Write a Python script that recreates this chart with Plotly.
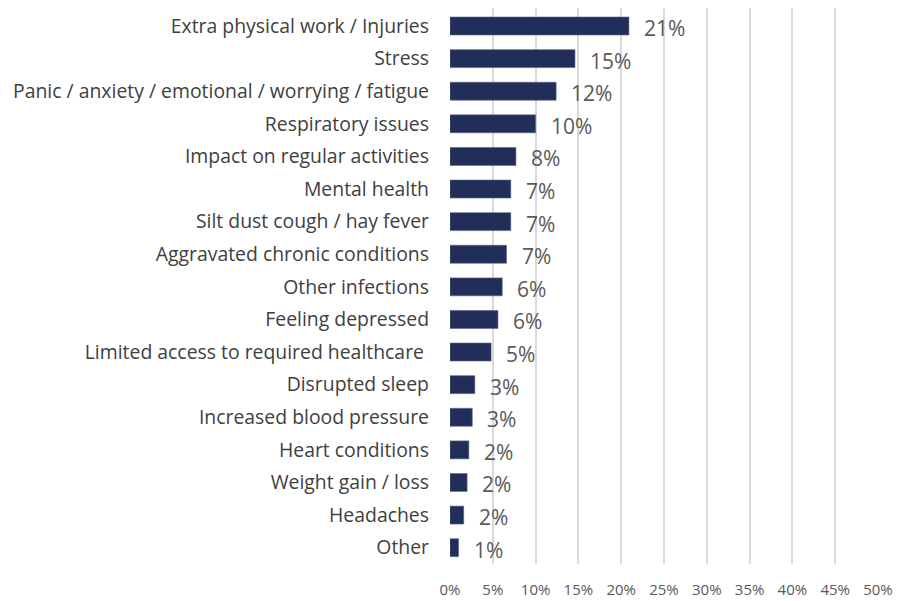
import plotly.graph_objects as go

# kategori & nilai (proporsi)
categories = [
    "Extra physical work / Injuries",
    "Stress",
    "Panic / anxiety / emotional / worrying / fatigue",
    "Respiratory issues",
    "Impact on regular activities",
    "Mental health",
    "Silt dust cough / hay fever",
    "Aggravated chronic conditions",
    "Other infections",
    "Feeling depressed",
    "Limited access to required healthcare\u00a0",
    "Disrupted sleep",
    "Increased blood pressure",
    "Heart conditions",
    "Weight gain / loss",
    "Headaches",
    "Other",
]
values = [0.209, 0.146, 0.124, 0.100, 0.077, 0.071, 0.071, 0.066, 0.061,
          0.056, 0.048, 0.029, 0.026, 0.022, 0.020, 0.016, 0.010]
labels = ["21%", "15%", "12%", "10%", "8%", "7%", "7%", "7%", "6%",
          "6%", "5%", "3%", "3%", "2%", "2%", "2%", "1%"]
tick_vals = [0, 0.05, 0.10, 0.15, 0.20, 0.25, 0.30, 0.35, 0.40, 0.45, 0.50]
tick_text = ["0%", "5%", "10%", "15%", "20%", "25%", "30%", "35%", "40%", "45%", "50%"]

BAR_COLOR = "#222E5A"

fig = go.Figure()
fig.add_trace(go.Bar(
    x=values,
    y=categories,
    orientation="h",
    marker=dict(color=BAR_COLOR, line=dict(color="#5a6387", width=0.6)),
    hoverinfo="skip",
))

# label nilai di ujung bar
for cat, v, lab in zip(categories, values, labels):
    fig.add_annotation(
        x=v, y=cat, text=lab, showarrow=False,
        xanchor="left", xshift=13, yshift=-2,
        font=dict(family="Open Sans", size=21, color="#595959"),
    )

# halaman punya margin body 8px, jadi ukuran figur dikurangi 8
fig.update_layout(
    width=894,
    height=593,
    margin=dict(l=442, r=24, t=0, b=37),
    plot_bgcolor="white",
    paper_bgcolor="white",
    bargap=0.45,
    showlegend=False,
    font=dict(family="Open Sans", color="#404040"),
)
fig.update_xaxes(
    range=[0, 0.5],
    tickvals=tick_vals,
    ticktext=tick_text,
    showgrid=True,
    gridcolor="#d9d9d9",
    gridwidth=1.5,
    zeroline=False,
    automargin=False,
    ticklabelstandoff=15,
    tickfont=dict(size=15, color="#595959"),
)
fig.update_yaxes(
    autorange="reversed",
    showgrid=False,
    automargin=False,
    ticklabelstandoff=20,
    tickfont=dict(size=19.4, color="#404040"),
)

fig.write_html("out.html")
